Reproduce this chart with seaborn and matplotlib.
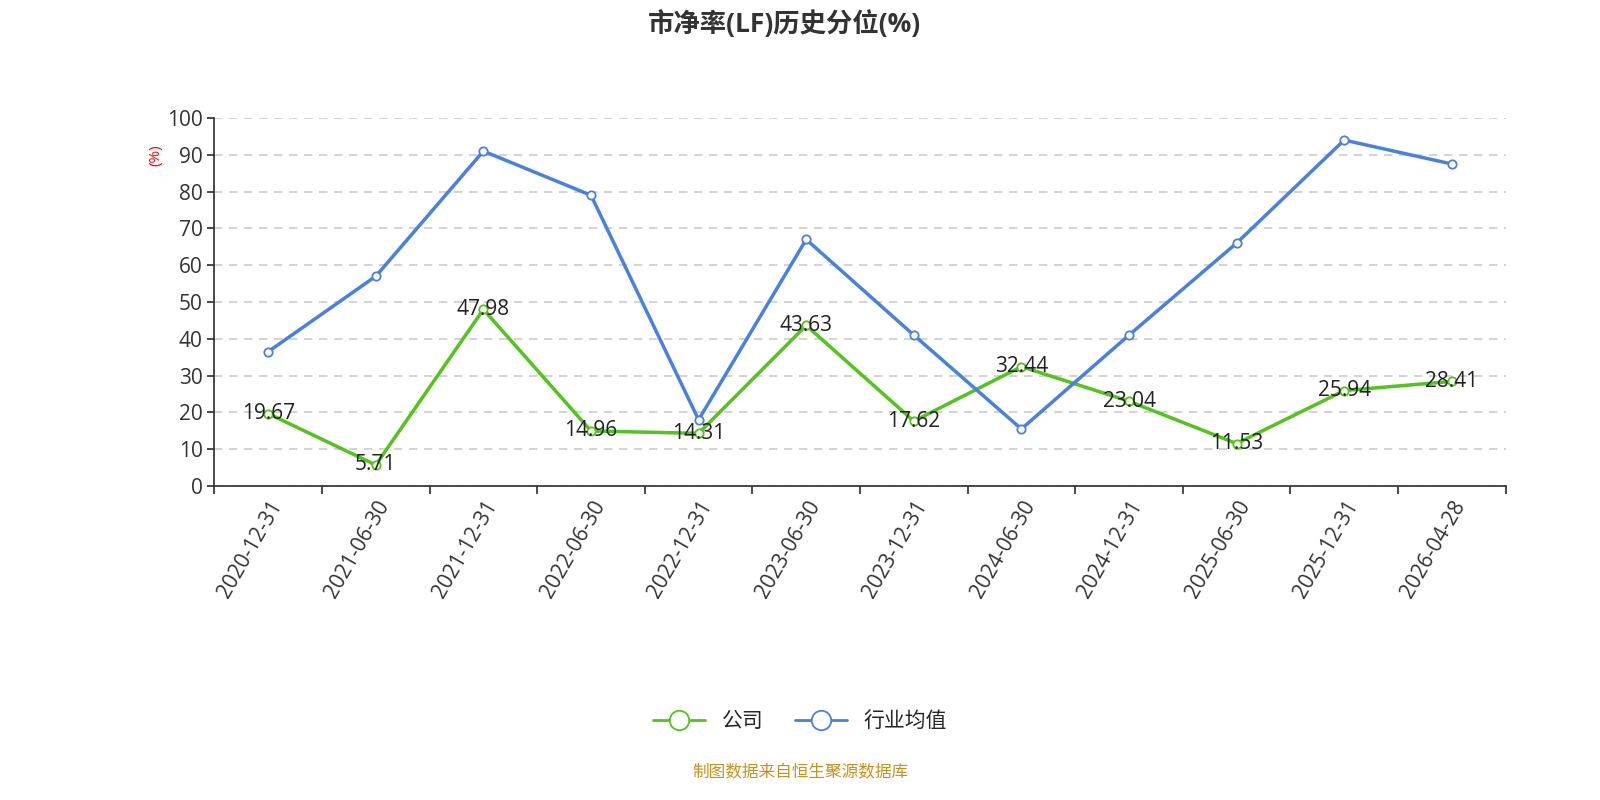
import numpy as np
import pandas as pd
import matplotlib
matplotlib.use("Agg")
import matplotlib.pyplot as plt
import seaborn as sns
from matplotlib.lines import Line2D

dates = ["2020-12-31", "2021-06-30", "2021-12-31", "2022-06-30", "2022-12-31", "2023-06-30",
         "2023-12-31", "2024-06-30", "2024-12-31", "2025-06-30", "2025-12-31", "2026-04-28"]
company = [19.67, 5.71, 47.98, 14.96, 14.31, 43.63, 17.62, 32.44, 23.04, 11.53, 25.94, 28.41]
industry = [36.5, 57.0, 91.0, 79.0, 18.0, 67.0, 41.0, 15.5, 41.0, 66.0, 94.0, 87.5]

sns.set_theme(style="white")
plt.rcParams['font.family'] = ['Open Sans', 'Noto Sans CJK SC', 'DejaVu Sans']

green = "#52c41a"
blue = "#4a80e0"

df = pd.DataFrame({"x": np.arange(len(dates)), "公司": company, "行业均值": industry})
long = df.melt(id_vars="x", var_name="series", value_name="v")

fig = plt.figure(figsize=(16, 8), dpi=100)
ax = fig.add_axes([0.134, 0.3925, 0.807, 0.46])
sns.lineplot(data=long, x="x", y="v", hue="series", palette=[green, blue], marker="o",
             markersize=6, markerfacecolor="white", markeredgewidth=1.3, linewidth=2.5,
             ax=ax, legend=False)
for l in ax.lines:
    l.set_markeredgecolor(l.get_color())

for i, v in enumerate(company):
    ax.text(i, v, f"{v:.2f}", ha="center", va="center", fontsize=15, color="#222222")

ax.set_xlim(-0.5, len(dates) - 0.5)
ax.set_ylim(0, 100)
ax.set_yticks(range(0, 101, 10))
ax.tick_params(axis="y", labelsize=15, colors="#333333", length=5, left=True)
ax.yaxis.grid(True, linestyle=(0, (5, 4)), color="#cccccc", linewidth=1.2)
ax.set_xticks(np.arange(-0.5, len(dates)), minor=False)
ax.set_xticklabels([])
ax.set_xticks(np.arange(len(dates)), minor=True)
ax.set_xticklabels(dates, minor=True, rotation=60, ha="right", rotation_mode="anchor",
                   fontsize=15, color="#333333")
ax.tick_params(axis="x", which="major", length=6, bottom=True, color="#333333")
ax.tick_params(axis="x", which="minor", length=0, pad=8)
ax.set_xlabel("")
ax.set_ylabel("")
for s in ["top", "right"]:
    ax.spines[s].set_visible(False)
for s in ["left", "bottom"]:
    ax.spines[s].set_color("#333333")
ax.text(-0.045, 0.9, "(%)", transform=ax.transAxes, rotation=90, color="red",
        fontsize=11, ha="center", va="center")

fig.text(0.49, 0.97, "市净率(LF)历史分位(%)", ha="center", va="center", fontsize=19,
         fontweight="bold", color="#333333")

handles = [Line2D([], [], color=c, marker="o", markersize=14, markerfacecolor="white",
                  markeredgewidth=1.3, linewidth=2) for c in (green, blue)]
fig.legend(handles, ["公司", "行业均值"], loc="center", bbox_to_anchor=(0.5, 0.098), ncol=2,
           frameon=False, fontsize=15, handlelength=2.5, columnspacing=1.5)
fig.text(0.5, 0.034, "制图数据来自恒生聚源数据库", ha="center", va="center", fontsize=12,
         color="#c8901c")

fig.savefig("out.png", dpi=100)
